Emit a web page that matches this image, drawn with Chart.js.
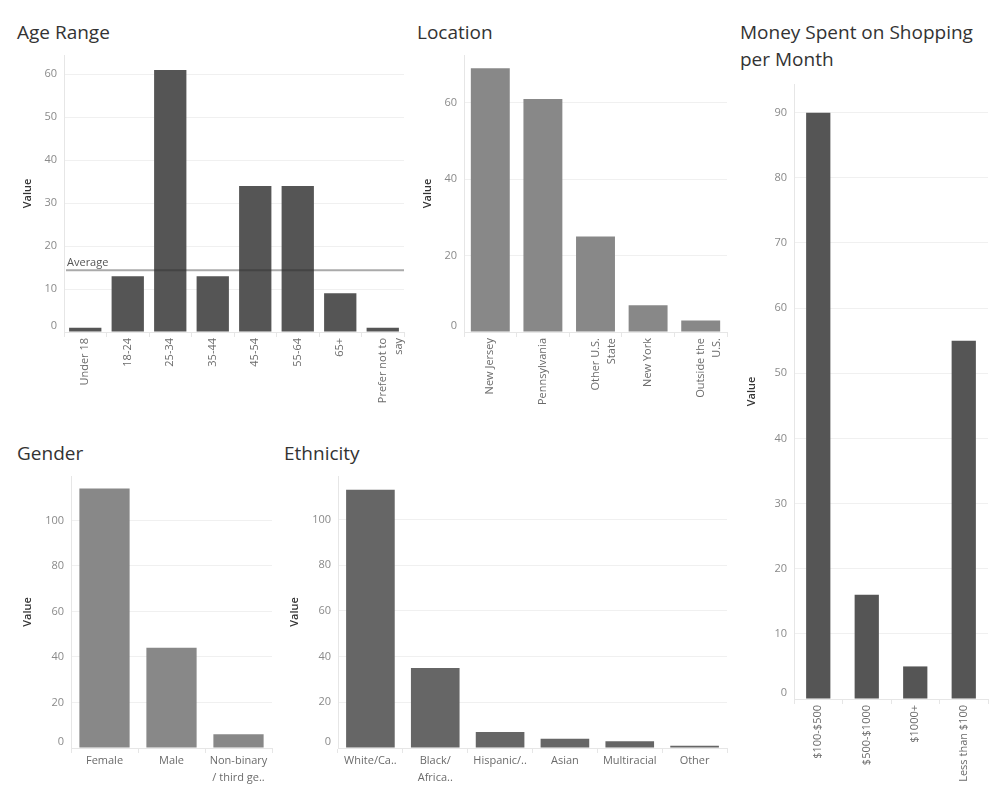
<!DOCTYPE html>
<html>
<head>
<meta charset="utf-8">
<script src="https://cdn.jsdelivr.net/npm/chart.js@4.4.1/dist/chart.umd.min.js"></script>
<style>
  body { margin: 0; background: #fff; width: 1000px; height: 800px; position: relative; overflow: hidden; font-family: "Open Sans", sans-serif; }
  .title { position: absolute; font-size: 19px; color: #333; line-height: 27px; }
  .box { position: absolute; }
</style>
</head>
<body>
<div class="title" style="left:17px; top:19px;">Age Range</div>
<div class="title" style="left:417px; top:19px;">Location</div>
<div class="title" style="left:740px; top:19px;">Money Spent on Shopping<br>per Month</div>
<div class="title" style="left:17px; top:440px;">Gender</div>
<div class="title" style="left:284px; top:440px;">Ethnicity</div>

<div class="box" style="left:0; top:51px; width:406px; height:361px;"><canvas id="ageChart"></canvas></div>
<div class="box" style="left:400px; top:51px; width:330px; height:361px;"><canvas id="locationChart"></canvas></div>
<div class="box" style="left:730px; top:80px; width:270px; height:712px;"><canvas id="moneyChart"></canvas></div>
<div class="box" style="left:0; top:470px; width:275px; height:320px;"><canvas id="genderChart"></canvas></div>
<div class="box" style="left:270px; top:470px; width:460px; height:320px;"><canvas id="ethnicityChart"></canvas></div>

<script>
// edades
const ageLabels = ['Under 18', '18-24', '25-34', '35-44', '45-54', '55-64', '65+', ['Prefer not to', 'say']];
const ageValues = [1, 13, 61, 13, 34, 34, 9, 1];
const ageAverage = 14.4;

// ubicacion
const locationLabels = ['New Jersey', 'Pennsylvania', ['Other U.S.', 'State'], 'New York', ['Outside the', 'U.S.']];
const locationValues = [69, 61, 25, 7, 3];

// dinero gastado por mes
const moneyLabels = ['$100-$500', '$500-$1000', '$1000+', 'Less than $100'];
const moneyValues = [90, 16, 5, 55];

// genero
const genderLabels = ['Female', 'Male', ['Non-binary', '/ third ge..']];
const genderValues = [114, 44, 6];

// etnia
const ethnicityLabels = ['White/Ca..', ['Black/', 'Africa..'], 'Hispanic/..', 'Asian', 'Multiracial', 'Other'];
const ethnicityValues = [113, 35, 7, 4, 3, 1];

Chart.defaults.font.family = '"Open Sans", sans-serif';
Chart.defaults.font.size = 11;
Chart.defaults.animation = false;

// linea de promedio para el chart de edades
const averageLine = {
  id: 'averageLine',
  afterDatasetsDraw(chart) {
    const y = chart.scales.y.getPixelForValue(ageAverage);
    const area = chart.chartArea;
    const ctx = chart.ctx;
    ctx.save();
    ctx.strokeStyle = 'rgba(42,42,42,0.4)';
    ctx.lineWidth = 2;
    ctx.beginPath();
    ctx.moveTo(area.left + 2, y);
    ctx.lineTo(area.right, y);
    ctx.stroke();
    ctx.fillStyle = '#555';
    ctx.font = '11px "Open Sans", sans-serif';
    ctx.textBaseline = 'bottom';
    ctx.fillText('Average', area.left + 3, y - 2);
    ctx.restore();
  },
};

function makeBarChart(id, labels, values, opts) {
  const ctx = document.getElementById(id);
  // eslint-disable-next-line no-undef
  return new Chart(ctx, {
    type: 'bar',
    data: {
      labels: labels,
      datasets: [
        {
          data: values,
          backgroundColor: opts.color,
          barPercentage: opts.barPct,
          categoryPercentage: 1,
        },
      ],
    },
    options: {
      responsive: true,
      maintainAspectRatio: false,
      layout: { padding: opts.padding },
      plugins: { legend: { display: false }, tooltip: { enabled: false } },
      scales: {
        x: {
          grid: { offset: true, drawOnChartArea: false, tickLength: 5, color: '#e6e6e6' },
          border: { color: '#e6e6e6' },
          ticks: {
            color: '#6b6b6b',
            autoSkip: false,
            maxRotation: opts.rotate ? 90 : 0,
            minRotation: opts.rotate ? 90 : 0,
            padding: opts.rotate ? 1 : 0,
            font: { size: 11, lineHeight: 1.5 },
          },
          afterFit: (scale) => {
            scale.height = opts.xHeight;
            scale.paddingLeft = 0;
            scale.paddingRight = 0;
          },
        },
        y: {
          min: 0,
          max: opts.max,
          grid: { color: '#f0f0f0', drawTicks: false },
          border: { color: '#e6e6e6' },
          ticks: {
            stepSize: opts.step,
            color: '#8a8a8a',
            padding: 7,
            // el cero va un poco por encima de la base, como en tableau
            callback: (v) => (v === 0 ? ['0', ''] : v),
          },
          afterBuildTicks: (scale) => {
            scale.ticks = scale.ticks.filter((t) => t.value % opts.step === 0);
          },
          title: {
            display: true,
            text: 'Value',
            color: '#333',
            font: { size: 11, weight: '600' },
            padding: { top: opts.titlePad, bottom: 0 },
          },
          afterFit: (scale) => {
            scale.width = opts.yWidth;
            scale.paddingTop = 0;
            scale.paddingBottom = 0;
          },
        },
      },
    },
    plugins: opts.plugins || [],
  });
}

makeBarChart('ageChart', ageLabels, ageValues, {
  color: '#555555', barPct: 0.76, max: 64.5, step: 10, rotate: true,
  xHeight: 80, yWidth: 64, titlePad: 21,
  padding: { top: 4, right: 2, left: 0, bottom: 0 },
  plugins: [averageLine],
});

makeBarChart('locationChart', locationLabels, locationValues, {
  color: '#888888', barPct: 0.74, max: 72.5, step: 20, rotate: true,
  xHeight: 80, yWidth: 64, titlePad: 21,
  padding: { top: 4, right: 3, left: 0, bottom: 0 },
});

makeBarChart('moneyChart', moneyLabels, moneyValues, {
  color: '#555555', barPct: 0.5, max: 94.4, step: 10, rotate: true,
  xHeight: 93, yWidth: 64, titlePad: 15,
  padding: { top: 4, right: 12, left: 0, bottom: 0 },
});

makeBarChart('genderChart', genderLabels, genderValues, {
  color: '#888888', barPct: 0.75, max: 119.5, step: 20, rotate: false,
  xHeight: 42, yWidth: 71, titlePad: 21,
  padding: { top: 6, right: 3, left: 0, bottom: 0 },
});

makeBarChart('ethnicityChart', ethnicityLabels, ethnicityValues, {
  color: '#666666', barPct: 0.75, max: 119, step: 20, rotate: false,
  xHeight: 42, yWidth: 68, titlePad: 18,
  padding: { top: 6, right: 3, left: 0, bottom: 0 },
});
</script>
</body>
</html>
